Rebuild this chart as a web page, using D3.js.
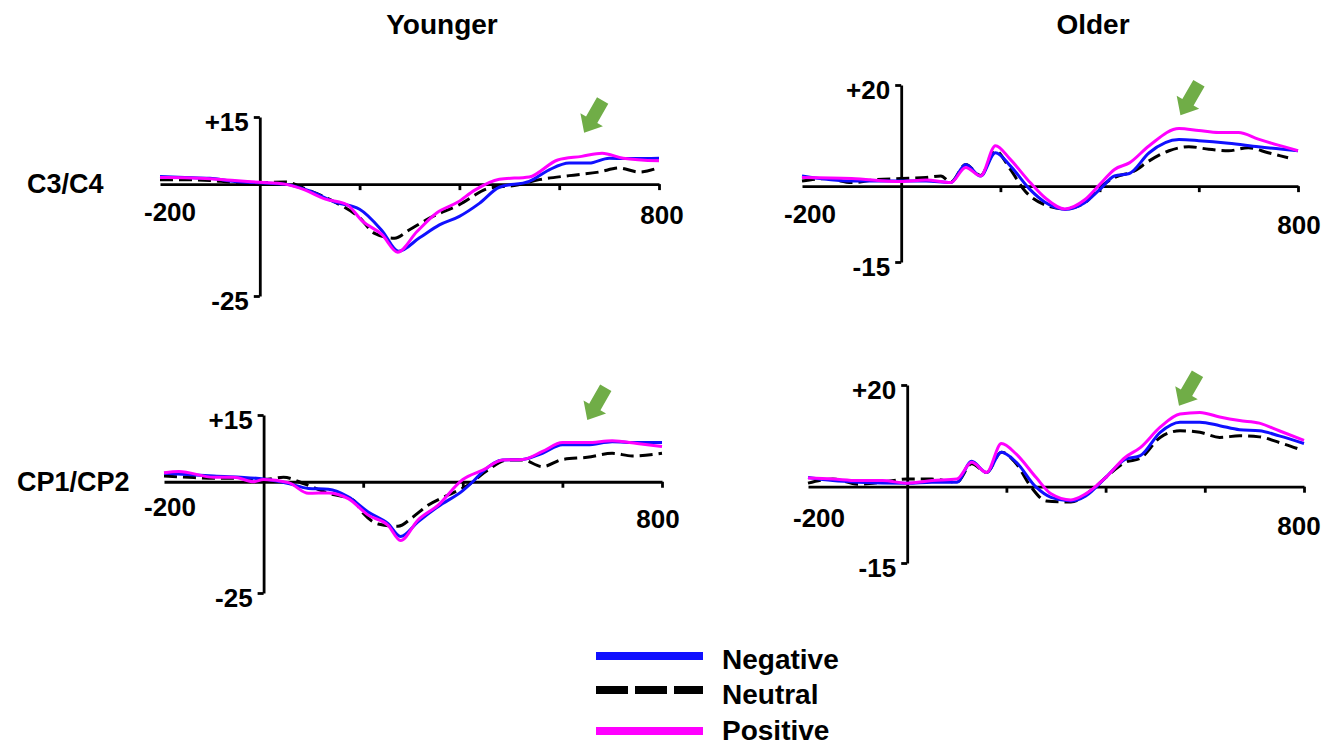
<!DOCTYPE html>
<html>
<head>
<meta charset="utf-8">
<script src="https://cdn.jsdelivr.net/npm/d3@7"></script>
<style>
  body { margin: 0; background: #fff; }
  svg { display: block; }
</style>
</head>
<body>
<div id="chart"></div>
<script>
// ERP waveforms, values in microvolts, time in ms
const groups = ['Younger', 'Older'];
const sites = ['C3/C4', 'CP1/CP2'];
const conditions = ['Negative', 'Neutral', 'Positive'];
const xEndTicks = [-200, 800];
const xInnerTicks = [200, 400, 600, 800];
const youngerYRange = [-25, 15];
const olderYRange = [-15, 20];

const youngC3Negative = [[-200,1.7],[-150,1.5],[-100,1.3],[-50,0.6],[0,0.3],[50,0],[100,-1.5],[150,-4.0],[200,-5.6],[245,-10.4],[278,-15],[320,-12],[360,-9.1],[400,-7.2],[440,-4.3],[480,-0.7],[540,0.6],[580,3.2],[620,4.7],[660,4.7],[700,5.8],[750,5.7],[800,5.8]];
const youngC3Neutral = [[-200,1.0],[-150,1.0],[-100,0.8],[-50,0.4],[0,0.3],[50,0.5],[100,-1.5],[150,-4.0],[200,-7.5],[230,-11.0],[270,-12.1],[300,-10.2],[340,-7.6],[400,-4.6],[460,-0.9],[510,-0.3],[560,1.0],[620,1.9],[680,2.7],[720,3.6],[760,2.7],[800,3.7]];
const youngC3Positive = [[-200,1.5],[-150,1.4],[-100,1.2],[-50,0.8],[0,0.4],[50,0],[90,-1.3],[130,-3.3],[175,-4.6],[205,-8.2],[245,-11.3],[276,-15.2],[315,-10.6],[355,-6.4],[397,-4.0],[430,-1.4],[480,1.1],[540,1.6],[597,5.4],[645,6.2],[686,6.9],[728,5.8],[800,5.2]];

const oldC3Negative = [[-200,2.0],[-100,1.0],[0,1.0],[50,1.0],[100,0.7],[130,4.3],[160,2.0],[190,6.6],[220,4.0],[260,-0.7],[290,-3.2],[330,-4.6],[370,-3.3],[400,-0.7],[430,2.0],[460,2.5],[500,6.6],[560,9.2],[600,9.0],[660,8.5],[720,7.8],[800,7.0]];
const oldC3Neutral = [[-200,1.0],[-150,1.5],[-100,0.7],[-50,1.3],[0,1.5],[50,1.7],[80,2.0],[100,0.8],[130,4.3],[160,2.1],[190,7.0],[220,3.3],[250,-1.0],[290,-3.7],[330,-4.5],[370,-3.3],[400,-0.3],[430,1.7],[470,3.0],[500,5.0],[540,7.0],[580,7.8],[620,7.3],[660,7.0],[700,7.6],[740,6.6],[780,5.6]];
const oldC3Positive = [[-200,1.7],[-100,1.5],[0,0.9],[50,1.2],[100,0.7],[130,3.7],[160,2.0],[190,8.0],[220,5.3],[260,0.7],[290,-2.3],[330,-4.5],[370,-2.7],[400,0.3],[430,3.3],[460,4.6],[500,8.0],[560,11.4],[600,11.0],[640,10.6],[680,10.6],[720,9.3],[760,8.1],[800,7.0]];

const youngCPNegative = [[-200,1.9],[-100,1.3],[0,0.6],[50,-0.4],[90,-1.5],[130,-1.7],[170,-3.4],[210,-6.8],[250,-9.4],[275,-12.3],[310,-9.0],[350,-5.6],[400,-2.0],[420,0],[440,2.3],[480,4.9],[520,5.0],[560,6.4],[600,8.3],[650,8.3],[700,9.0],[750,8.8],[800,8.8]];
const youngCPNeutral = [[-200,1.3],[-150,1.0],[-100,0.8],[-50,0.8],[0,0.5],[40,1.0],[80,-0.4],[130,-2.6],[180,-4.1],[200,-7.1],[230,-9.5],[270,-10.0],[300,-7.9],[330,-5.3],[370,-3.0],[410,-0.8],[450,2.6],[490,4.9],[520,4.9],[560,3.4],[600,5.0],[650,5.5],[700,6.4],[740,5.8],[800,6.4]];
const youngCPPositive = [[-200,2.0],[-170,2.3],[-100,1.0],[-60,1.0],[-20,0],[0,0.5],[50,-0.2],[90,-2.6],[130,-2.5],[170,-3.8],[210,-7.5],[250,-9.8],[275,-13.2],[310,-8.6],[350,-5.3],[400,0.5],[440,2.6],[480,4.9],[520,5.0],[560,6.8],[600,8.8],[650,8.8],[700,9.2],[750,8.6],[800,7.9]];

const oldCPNegative = [[-200,1.8],[-150,1.2],[-100,0.9],[0,0.7],[50,0.9],[100,0.9],[130,5.0],[160,2.8],[190,6.8],[220,4.8],[260,-0.1],[290,-2.1],[330,-2.8],[360,-1.8],[400,1.8],[440,5.4],[470,6.1],[510,10.7],[550,12.7],[590,12.7],[630,12.0],[670,11.2],[710,11.0],[750,10.0],[800,8.5]];
const oldCPNeutral = [[-200,0.7],[-150,1.5],[-100,0.5],[-50,0.9],[0,1.5],[50,1.5],[100,0.9],[130,4.5],[160,2.8],[190,6.8],[220,4.5],[250,-0.1],[280,-2.8],[330,-3.0],[370,-0.8],[400,1.8],[440,4.8],[470,5.6],[510,9.7],[550,11.0],[590,10.7],[630,9.7],[670,10.0],[710,9.8],[750,8.7],[790,7.4]];
const oldCPPositive = [[-200,1.7],[-150,1.5],[-100,1.2],[-50,1.2],[0,0.7],[50,1.2],[100,1.5],[130,4.8],[160,2.8],[190,8.5],[220,6.4],[260,1.8],[290,-1.4],[330,-2.6],[360,-1.4],[400,1.8],[440,5.8],[470,7.7],[510,11.7],[550,14.3],[590,14.6],[630,13.7],[670,13.0],[710,12.5],[750,11.0],[800,9.1]];

// arrow tips in data units [ms, µV]
const arrowTips = [[650, 11.5], [563, 14], [650, 13.9], [548, 15.9]];

const w = 1336;
const h = 747;
const font = '"Liberation Sans", Arial, Helvetica, sans-serif';
const colors = {Negative: '#1010ff', Neutral: '#000', Positive: '#ff00ff'};

const svg = d3
	.select('#chart')
	.append('svg')
	.attr('width', w)
	.attr('height', h)
	.style('background-color', '#fff')
	.style('font-family', font)
	.style('font-weight', 'bold');

// titles
svg.selectAll('.title')
	.data(groups)
	.enter()
	.append('text')
	.attr('class', 'title')
	.attr('x', (d, i) => [442, 1093][i])
	.attr('y', 34)
	.attr('text-anchor', 'middle')
	.style('font-size', '28px')
	.text(d => d);

// row labels
svg.selectAll('.site')
	.data(sites)
	.enter()
	.append('text')
	.attr('class', 'site')
	.attr('x', (d, i) => [27, 17][i])
	.attr('y', (d, i) => [193, 491][i])
	.style('font-size', '27px')
	.text(d => d);

const panels = [
	{x0: 160, x1: 659, yTop: 117, yBot: 296, range: youngerYRange, data: [youngC3Negative, youngC3Neutral, youngC3Positive],
		startLbl: [10, 37], endLbl: [3, 40]},
	{x0: 802, x1: 1298, yTop: 85, yBot: 262, range: olderYRange, data: [oldC3Negative, oldC3Neutral, oldC3Positive],
		startLbl: [8, 37], endLbl: [1, 48]},
	{x0: 164, x1: 662, yTop: 415, yBot: 593, range: youngerYRange, data: [youngCPNegative, youngCPNeutral, youngCPPositive],
		startLbl: [6, 34], endLbl: [-4, 46]},
	{x0: 808, x1: 1304, yTop: 385, yBot: 563, range: olderYRange, data: [oldCPNegative, oldCPNeutral, oldCPPositive],
		startLbl: [11, 40], endLbl: [-5, 48]}
];

panels.forEach((p, pi) => {
	const xScale = d3.scaleLinear().domain([-200, 800]).range([p.x0, p.x1]);
	const yScale = d3.scaleLinear().domain(p.range).range([p.yBot, p.yTop]);
	const g = svg.append('g');

	const xAxis = d3.axisBottom(xScale)
		.tickValues(xInnerTicks)
		.tickSize(6)
		.tickSizeOuter(0)
		.tickFormat('');
	g.append('g')
		.attr('transform', `translate(0, ${yScale(0)})`)
		.call(xAxis);

	const yAxis = d3.axisLeft(yScale)
		.tickValues(p.range)
		.tickSize(6)
		.tickSizeOuter(0)
		.tickPadding(5)
		.tickFormat(d => (d > 0 ? '+' : '') + String(d));
	g.append('g')
		.attr('transform', `translate(${xScale(0)}, 0)`)
		.call(yAxis);

	g.selectAll('.domain, .tick line').attr('stroke', '#000').attr('stroke-width', 2.8);
	g.selectAll('.tick text')
		.attr('fill', '#000')
		.attr('dy', (d, i) => (i === 0 ? '0.25em' : '0.5em'))
		.style('font-family', font)
		.style('font-weight', 'bold')
		.style('font-size', '26px');

	// -200 / 800 labels under the axis ends
	g.selectAll('.end-label')
		.data(xEndTicks)
		.enter()
		.append('text')
		.attr('class', 'end-label')
		.attr('x', (d, i) => xScale(d) + (i === 0 ? p.startLbl[0] : p.endLbl[0]))
		.attr('y', (d, i) => yScale(0) + (i === 0 ? p.startLbl[1] : p.endLbl[1]))
		.attr('text-anchor', 'middle')
		.style('font-size', '26px')
		.text(d => String(d));

	const line = d3.line()
		.x(d => xScale(d[0]))
		.y(d => yScale(d[1]))
		.curve(d3.curveMonotoneX);

	// neutral first, then negative, positive on top
	[1, 0, 2].forEach(ci => {
		const cond = conditions[ci];
		g.append('path')
			.datum(p.data[ci])
			.attr('fill', 'none')
			.attr('stroke', colors[cond])
			.attr('stroke-width', 3)
			.attr('stroke-dasharray', cond === 'Neutral' ? '13,6' : null)
			.attr('d', line);
	});

	// green arrow
	const tip = arrowTips[pi];
	g.append('path')
		.attr('d', 'M0,0 L-13,-15 L-6.5,-15 L-6.5,-37 L6.5,-37 L6.5,-15 L13,-15 Z')
		.attr('fill', '#70ad47')
		.attr('transform', `translate(${xScale(tip[0])}, ${yScale(tip[1])}) rotate(30)`);
});

// legend
const legend = svg.append('g').attr('transform', 'translate(596, 0)');
const legendY = [656, 690, 731];

legend.selectAll('line')
	.data(conditions)
	.enter()
	.append('line')
	.attr('x1', 0)
	.attr('x2', 107)
	.attr('y1', (d, i) => legendY[i])
	.attr('y2', (d, i) => legendY[i])
	.attr('stroke', d => colors[d])
	.attr('stroke-width', 8)
	.attr('stroke-dasharray', d => (d === 'Neutral' ? '32,7' : null));

legend.selectAll('text')
	.data(conditions)
	.enter()
	.append('text')
	.attr('x', 126)
	.attr('y', (d, i) => [669, 704, 740][i])
	.style('font-size', '28px')
	.text(d => d);
</script>
</body>
</html>
